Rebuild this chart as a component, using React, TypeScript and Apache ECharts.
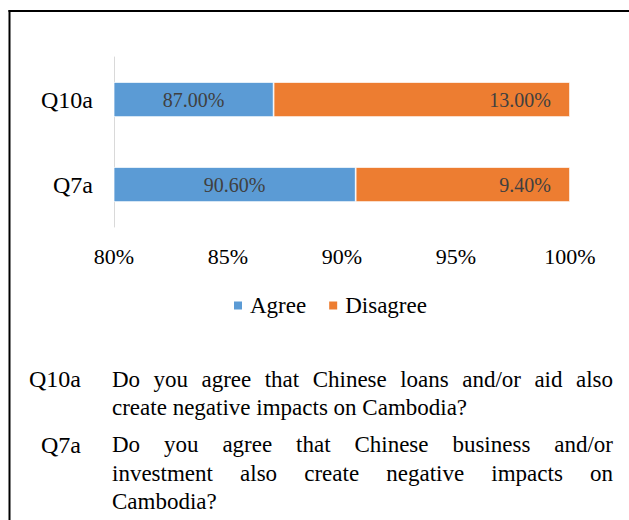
import React, { useEffect, useRef } from 'react';
import * as echarts from 'echarts';

const categories = ['Q7a', 'Q10a'];
const agreeValues = [90.6, 87.0];
const disagreeValues = [9.4, 13.0];
const xTicks = [80, 85, 90, 95, 100];
const seriesNames = ['Agree', 'Disagree'];
const noteLabels = ['Q10a', 'Q7a'];
const noteLines = [
  ['Do you agree that Chinese loans and/or aid also', 'create negative impacts on Cambodia?'],
  ['Do you agree that Chinese business and/or', 'investment also create negative impacts on', 'Cambodia?'],
];

const FONT = "'Liberation Serif', 'Times New Roman', serif";
const NOTE_SIZE = 23;
const NOTE_LEFT = 112;
const NOTE_RIGHT = 613;
const NOTE_LABEL_RIGHT = 81;
const NOTE_Y = [[379, 407.5], [444.5, 473, 501.5]];

function buildNotes(): any[] {
  const canvas = document.createElement('canvas');
  const ctx = canvas.getContext('2d')!;
  ctx.font = `${NOTE_SIZE}px "Liberation Serif", "Times New Roman", serif`;
  const els: any[] = [];
  const txt = (text: string, x: number, y: number, align: string, size = NOTE_SIZE) => ({
    type: 'text',
    x,
    y,
    style: { text, fontSize: size, fontFamily: FONT, fill: '#000', align, verticalAlign: 'middle' },
  });
  noteLines.forEach((lines, pi) => {
    els.push(txt(noteLabels[pi], NOTE_LABEL_RIGHT, NOTE_Y[pi][0], 'right', 24));
    lines.forEach((line, li) => {
      const y = NOTE_Y[pi][li];
      const isLast = li === lines.length - 1;
      if (isLast) {
        els.push(txt(line, NOTE_LEFT, y, 'left'));
        return;
      }
      const words = line.split(' ');
      const widths = words.map((w) => ctx.measureText(w).width);
      const total = widths.reduce((a, b) => a + b, 0);
      const gap = (NOTE_RIGHT - NOTE_LEFT - total) / (words.length - 1);
      let x = NOTE_LEFT;
      words.forEach((w, wi) => {
        els.push(txt(w, x, y, 'left'));
        x += widths[wi] + gap;
      });
    });
  });
  return els;
}

export default function App() {
  const ref = useRef<HTMLDivElement>(null);
  useEffect(() => {
    if (!ref.current) return;
    const chart = echarts.init(ref.current, null, { renderer: 'svg' });
    const labelBase = { show: true, color: '#404040', fontSize: 20, fontFamily: FONT, formatter: (p: any) => p.value.toFixed(2) + '%' };
    chart.setOption({
      animation: false,
      backgroundColor: '#fff',
      grid: { left: 114, right: 59, top: 57, bottom: 293, containLabel: false },
      legend: {
        data: seriesNames,
        left: 232,
        top: 294,
        padding: 0,
        icon: 'rect',
        itemWidth: 10,
        itemHeight: 10,
        itemGap: 21,
        textStyle: { fontSize: 23, fontFamily: FONT, color: '#000', padding: [0, 0, 0, 2] },
      },
      xAxis: {
        type: 'value',
        min: xTicks[0],
        max: xTicks[xTicks.length - 1],
        interval: xTicks[1] - xTicks[0],
        axisLine: { show: false },
        axisTick: { show: false },
        splitLine: { show: false },
        axisLabel: { formatter: '{value}%', fontSize: 22, fontFamily: FONT, color: '#000', margin: 18 },
      },
      yAxis: {
        type: 'category',
        data: categories,
        axisLine: { show: true, lineStyle: { color: '#d9d9d9', width: 1 } },
        axisTick: { show: false },
        axisLabel: { fontSize: 24, fontFamily: FONT, color: '#000', margin: 21 },
      },
      series: [
        {
          name: seriesNames[0],
          type: 'bar',
          stack: 'total',
          data: agreeValues,
          barWidth: 35,
          clip: true,
          itemStyle: { color: '#5b9bd5', borderColor: '#ffffff', borderWidth: 0.75 },
          label: { ...labelBase, position: 'inside' },
        },
        {
          name: seriesNames[1],
          type: 'bar',
          stack: 'total',
          data: disagreeValues,
          barWidth: 35,
          clip: true,
          itemStyle: { color: '#ed7d31', borderColor: '#ffffff', borderWidth: 0.75 },
          label: { ...labelBase, position: 'insideRight', distance: 19 },
        },
      ],
      graphic: [
        { type: 'line', shape: { x1: 9.5, y1: 10, x2: 9.5, y2: 520 }, style: { stroke: '#000', lineWidth: 2 } },
        { type: 'line', shape: { x1: 8.5, y1: 11, x2: 629, y2: 11 }, style: { stroke: '#000', lineWidth: 2 } },
        ...buildNotes(),
      ],
    });
    return () => chart.dispose();
  }, []);
  return <div ref={ref} style={{ position: 'fixed', left: 0, top: 0, width: 629, height: 520 }} />;
}
